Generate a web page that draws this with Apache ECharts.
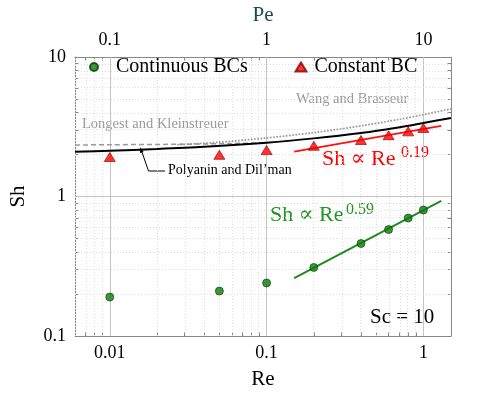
<!DOCTYPE html>
<html>
<head>
<meta charset="utf-8">
<script src="https://cdn.jsdelivr.net/npm/echarts@6/dist/echarts.min.js"></script>
<style>
html, body { margin: 0; padding: 0; background: #fff; }
#chart { width: 498px; height: 395px; }
</style>
</head>
<body>
<div id="chart"></div>
<script>
// simulations, Sc = 10
const reSim = [0.01, 0.05, 0.1, 0.2, 0.4, 0.6, 0.8, 1.0];
const shContinuous = [0.19, 0.21, 0.24, 0.31, 0.46, 0.58, 0.70, 0.80];
const shConstant = [1.92, 1.99, 2.15, 2.31, 2.54, 2.75, 2.93, 3.10];
// power law fits (end points)
const reFit = [0.15, 1.3];
const shFitContinuous = [0.26, 0.93];
const shFitConstant = [2.10, 3.21];
// correlations from the literature
const rePolyanin = [0.006, 0.01, 0.02, 0.04, 0.1, 0.2, 0.4, 0.6, 0.8, 1.0, 1.5];
const shPolyanin = [2.09, 2.13, 2.19, 2.27, 2.43, 2.61, 2.85, 3.05, 3.21, 3.36, 3.66];
const reLongest = [0.006, 0.01, 0.03, 0.06, 0.1];
const shLongest = [2.34, 2.35, 2.37, 2.40, 2.43];
const reWang = [0.027, 0.05, 0.1, 0.2, 0.4, 0.7, 1.0, 1.5];
const shWang = [2.35, 2.45, 2.63, 2.87, 3.21, 3.57, 3.86, 4.25];
// axes
const reRange = [0.006, 1.5];
const peRange = [0.06, 15];
const shRange = [0.1, 10];
const reLabels = [0.01, 0.1, 1];
const peLabels = [0.1, 1, 10];
const shLabels = [0.1, 1, 10];

const FONT = "'Liberation Serif', 'DejaVu Serif', serif";
const lg = Math.log10;
const pts = (xs, ys) => xs.map((x, i) => [lg(x), lg(ys[i])]);
const fmt = v => {
    const n = Math.round(v);
    return n < 0 ? Math.pow(10, n).toFixed(-n) : String(Math.pow(10, n));
};

// 1..9 in every decade that falls in [lo, hi]
function logSteps(lo, hi) {
    let out = [];
    for (let d = Math.floor(lg(lo)); d <= Math.ceil(lg(hi)); d++) {
        for (let k = 1; k <= 9; k++) {
            const v = k * Math.pow(10, d);
            if (v >= lo * 0.999 && v <= hi * 1.001) out.push({ v: lg(v), major: k === 1 });
        }
    }
    return out;
}
const xSteps = logSteps(reRange[0], reRange[1]);
const ySteps = logSteps(shRange[0], shRange[1]);

const majorStyle = { color: '#c4c4c4', width: 1, type: 'solid' };
const minorStyle = { color: '#dedede', width: 1, type: [1, 2] };
const gridLines = [];
xSteps.forEach(s => gridLines.push({ xAxis: s.v, lineStyle: s.major ? majorStyle : minorStyle }));
ySteps.forEach(s => {
    if (s.v <= lg(shRange[0]) + 1e-6 || s.v >= lg(shRange[1]) - 1e-6) return;
    gridLines.push({ yAxis: s.v, lineStyle: s.major ? majorStyle : minorStyle });
});

const frame = { show: true, onZero: false, lineStyle: { color: '#888', width: 1 } };
const tick = vals => ({ show: true, inside: true, length: 3.5, customValues: vals, lineStyle: { color: '#888' } });

const chart = echarts.init(document.getElementById('chart'));
const option = {
    animation: false,
    textStyle: { fontFamily: FONT },
    grid: { left: 73, right: 47, top: 49, bottom: 57 },
    legend: [
        {
            data: ['Continuous BCs'], left: 89, top: 57, padding: 0,
            itemWidth: 8, itemHeight: 8, selectedMode: false,
            textStyle: { fontFamily: FONT, fontSize: 20, color: '#000', padding: [0, 0, 0, 13] }
        },
        {
            data: ['Constant BC'], left: 294.5, top: 57, padding: 0,
            itemWidth: 11, itemHeight: 9, selectedMode: false,
            textStyle: { fontFamily: FONT, fontSize: 20, color: '#000', padding: [0, 0, 0, 3] }
        }
    ],
    xAxis: [
        {
            type: 'value', position: 'bottom', min: lg(reRange[0]), max: lg(reRange[1]),
            name: 'Re', nameLocation: 'middle', nameGap: 33,
            nameTextStyle: { fontFamily: FONT, fontSize: 21, color: '#000' },
            axisLine: frame, splitLine: { show: false },
            axisTick: tick(xSteps.map(s => s.v)),
            axisLabel: { customValues: reLabels.map(lg), formatter: fmt, margin: 8, fontFamily: FONT, fontSize: 18, color: '#000' }
        },
        {
            type: 'value', position: 'top', min: lg(peRange[0]), max: lg(peRange[1]),
            name: 'Pe', nameLocation: 'middle', nameGap: 31,
            nameTextStyle: { fontFamily: FONT, fontSize: 21, color: '#1d4b4b' },
            axisLine: frame, splitLine: { show: false },
            axisTick: tick(xSteps.map(s => s.v + 1)),
            axisLabel: { customValues: peLabels.map(lg), formatter: fmt, margin: 8, fontFamily: FONT, fontSize: 18, color: '#000' }
        }
    ],
    yAxis: [
        {
            type: 'value', position: 'left', min: lg(shRange[0]), max: lg(shRange[1]),
            name: 'Sh', nameLocation: 'middle', nameGap: 46,
            nameTextStyle: { fontFamily: FONT, fontSize: 21, color: '#000' },
            axisLine: frame, splitLine: { show: false },
            axisTick: tick(ySteps.map(s => s.v)),
            axisLabel: { customValues: shLabels.map(lg), formatter: fmt, margin: 9, fontFamily: FONT, fontSize: 18, color: '#000' }
        },
        {
            type: 'value', position: 'right', min: lg(shRange[0]), max: lg(shRange[1]),
            axisLine: frame, splitLine: { show: false },
            axisTick: tick(ySteps.map(s => s.v)),
            axisLabel: { show: false }
        }
    ],
    series: [
        {
            name: 'grid', type: 'line', data: [], silent: true, symbol: 'none',
            markLine: { silent: true, z: 1, symbol: ['none', 'none'], label: { show: false }, animation: false, data: gridLines }
        },
        {
            name: 'Longest and Kleinstreuer', type: 'line', smooth: 0.3, symbol: 'none', z: 3,
            data: pts(reLongest, shLongest),
            lineStyle: { color: '#999', width: 1.5, type: [5, 3] }
        },
        {
            name: 'Wang and Brasseur', type: 'line', smooth: 0.3, symbol: 'none', z: 3,
            data: pts(reWang, shWang),
            lineStyle: { color: '#999', width: 1.7, type: [1.7, 1.5] }
        },
        {
            name: 'Polyanin and Dil\u2019man', type: 'line', smooth: 0.3, symbol: 'none', z: 4,
            data: pts(rePolyanin, shPolyanin),
            lineStyle: { color: '#000', width: 2 }
        },
        {
            name: 'fit constant', type: 'line', symbol: 'none', z: 4,
            data: pts(reFit, shFitConstant),
            lineStyle: { color: '#ff1010', width: 1.8 }
        },
        {
            name: 'fit continuous', type: 'line', symbol: 'none', z: 4,
            data: pts(reFit, shFitContinuous),
            lineStyle: { color: '#1a8a1a', width: 1.8 }
        },
        {
            name: 'Continuous BCs', type: 'scatter', z: 6,
            symbol: 'circle', symbolSize: 8,
            data: pts(reSim, shContinuous),
            itemStyle: { color: '#0c7a0c', borderColor: '#053d05', borderWidth: 0.8 }
        },
        {
            name: 'Constant BC', type: 'scatter', z: 6,
            symbol: 'triangle', symbolSize: [11, 9],
            data: pts(reSim, shConstant),
            itemStyle: { color: '#ff0000', borderColor: '#8a0000', borderWidth: 0.8 }
        }
    ],
    graphic: [
        { type: 'text', left: 296, top: 92, silent: true,
          style: { text: 'Wang and Brasseur', font: "14.5px " + FONT, fill: '#9a9a9a' } },
        { type: 'text', left: 82, top: 117, silent: true,
          style: { text: 'Longest and Kleinstreuer', font: "14.5px " + FONT, fill: '#9a9a9a' } },
        { type: 'text', left: 168, top: 163, silent: true,
          style: { text: 'Polyanin and Dil\u2019man', font: "14px " + FONT, fill: '#000' } },
        { type: 'polyline', silent: true,
          shape: { points: [[165, 171], [148.5, 171], [141.6, 151]] },
          style: { stroke: '#000', lineWidth: 1, fill: null } },
        { type: 'polygon', silent: true,
          shape: { points: [[140.3, 147.2], [143.6, 152.0], [140.0, 153.1]] },
          style: { fill: '#000' } },
        { type: 'text', left: 322, top: 148, silent: true,
          style: { text: 'Sh \u221D Re', font: "22px " + FONT, fill: '#ff0000' } },
        { type: 'text', left: 401, top: 145, silent: true,
          style: { text: '0.19', font: "16px " + FONT, fill: '#ff0000' } },
        { type: 'text', left: 270, top: 204, silent: true,
          style: { text: 'Sh \u221D Re', font: "22px " + FONT, fill: '#1f951f' } },
        { type: 'text', left: 346, top: 202, silent: true,
          style: { text: '0.59', font: "16px " + FONT, fill: '#1f951f' } },
        { type: 'text', left: 370, top: 307, silent: true,
          style: { text: 'Sc = 10', font: "21px " + FONT, fill: '#000' } }
    ]
};
chart.setOption(option);
</script>
</body>
</html>
